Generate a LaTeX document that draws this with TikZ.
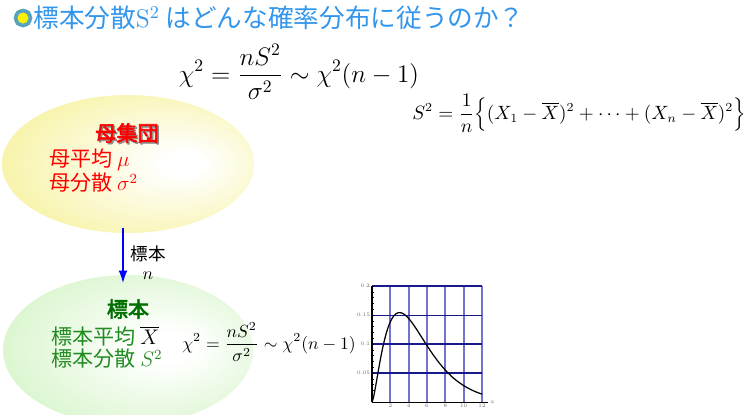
\documentclass[tikz,border=0pt]{standalone}
\usepackage{amsmath,amssymb}
\usepackage{fontspec}
\newfontfamily\jpfont{Noto Sans CJK JP}
\newfontfamily\jpbold[FakeBold=3]{Noto Sans CJK JP}
\usetikzlibrary{arrows.meta,calc,positioning}
\definecolor{titleblue}{RGB}{51,150,235}
\definecolor{popred}{RGB}{255,0,0}
\definecolor{sampgreen}{RGB}{34,139,34}
\definecolor{sampdark}{RGB}{0,110,0}
\definecolor{popyellow}{RGB}{247,243,165}
\definecolor{samplight}{RGB}{212,244,198}
\definecolor{gridnavy}{RGB}{25,25,140}
\definecolor{gridblue}{RGB}{115,115,205}
\pgfdeclareradialshading{popglow}{\pgfpoint{12bp}{0bp}}{color(0bp)=(white); color(4bp)=(white); color(32bp)=(popyellow); color(50bp)=(popyellow)}
\pgfdeclareradialshading{sampglow}{\pgfpoint{9bp}{1bp}}{color(0bp)=(white); color(5bp)=(white); color(34bp)=(samplight); color(50bp)=(samplight)}

\begin{document}
\begin{tikzpicture}[x=0.02cm,y=-0.02cm,
    jp/.style={font=\jpfont\fontsize{12}{14}\selectfont},
    jpb/.style={font=\jpbold\fontsize{12}{14}\selectfont},
    ticklbl/.style={font=\fontsize{3}{3}\selectfont,text=black!60,inner sep=1pt}]
    \useasboundingbox (0,0) rectangle (753,414);
    % Baggrunde: gul og groen ellipse
    \shade[shading=popglow] (128,164) ellipse [x radius=126, y radius=69];
    \shade[shading=sampglow] (128,350) ellipse [x radius=125, y radius=75];
    % Titel med lille blomst-ikon
    \fill[cyan!55!teal] (23,18) circle [radius=9];
    \foreach \a in {0,45,...,315}
      \fill[cyan!35!teal!80] ($(23,18)+(\a:6.5)$) circle [radius=3];
    \fill[yellow] (23,18) circle [radius=5.5];
    \node[anchor=west,inner sep=0pt,text=titleblue,font=\jpfont\fontsize{14.6}{16}\selectfont] (title) at (33,18)
      {標本分散{\rmfamily S\textsuperscript{2}} はどんな確率分布に従うのか？};
    % Formlerne foroven
    \node[font=\fontsize{14}{16}\selectfont] (chimain) at (299,72)
      {$\displaystyle \chi^2=\frac{nS^2}{\sigma^2}\sim\chi^2(n-1)$};
    \node[font=\fontsize{10.6}{12}\selectfont] (svar) at (579,113)
      {$\displaystyle S^2=\frac{1}{n}\Bigl\{(X_1-\overline{X})^2+\cdots+(X_n-\overline{X})^2\Bigr\}$};
    % Populationen
    \node[jpb,text=black!45] (popshadow) at (128.5,134.5) {母集団};
    \node[jpb,text=popred] (pop) at (127,133) {母集団};
    \node[jp,text=popred,anchor=west] (popmean) at (43,160) {母平均 $\mu$};
    \node[jp,text=popred,anchor=west] (popvar) at (43,183) {母分散 $\sigma^2$};
    % Stikproeve-pil
    \coordinate (arrtop) at (123,228);
    \coordinate (arrbot) at (123,283);
    \draw[-{Latex[length=7pt,width=5pt]},blue,line width=0.8pt] (arrtop) -- (arrbot);
    \node[font=\jpfont\fontsize{10}{12}\selectfont] (samplbl) at (148,254) {標本};
    \node[font=\fontsize{10}{12}\selectfont] (sampn) at (148,276) {$n$};
    % Stikproeven
    \node[jpb,text=sampdark] (samp) at (128,309) {標本};
    \node[jp,text=sampgreen,anchor=west] (sampmean) at (45,336) {標本平均 \textcolor{black}{$\overline{X}$}};
    \node[jp,text=sampgreen,anchor=west] (sampvar) at (45,359) {標本分散 $S^2$};
    \node[font=\fontsize{10}{12}\selectfont] (chisamp) at (269,342)
      {$\displaystyle \chi^2=\frac{nS^2}{\sigma^2}\sim\chi^2(n-1)$};
    % Chi^2-taethed med 5 frihedsgrader
    \begin{scope}[shift={(372,402)},xscale=9.17,yscale=-580]
      \foreach \gx in {2,4,...,12}
        \draw[gridblue,line width=1.1pt] (\gx,0) -- (\gx,0.2);
      \foreach \gy in {0.05,0.1,0.15,0.2}
        \draw[gridnavy,line width=0.6pt] (0,\gy) -- (12,\gy);
      \draw[black,line width=0.3pt] (0,0) -- (12.6,0);
      \draw[black,line width=0.8pt] (0,0) -- (0,0.2);
      \foreach \t in {1,...,20}
        \draw[black,line width=0.3pt] (0,\t/100) -- (0.25,\t/100);
      \foreach \gx in {2,4,...,12}
        \node[ticklbl,anchor=north] (xl\gx) at (\gx,0) {\gx};
      \node[ticklbl,anchor=west] (xlx) at (12.7,0) {x};
      \foreach \gy/\nm in {0.05/a,0.1/b,0.15/c,0.2/d}
        \node[ticklbl,anchor=east] (yl\nm) at (0,\gy) {\gy};
      \draw[black,line width=0.7pt] plot[domain=0:12,samples=90,smooth] (\x,{\x*sqrt(\x)*exp(-\x/2)/7.52});
    \end{scope}
\end{tikzpicture}
\end{document}
